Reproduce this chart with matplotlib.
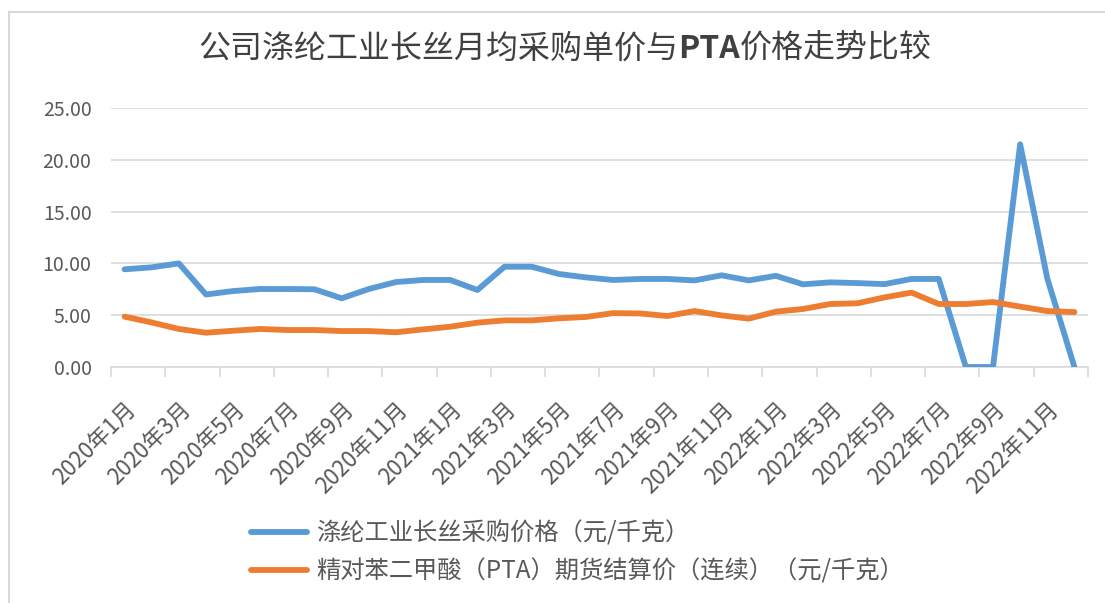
import matplotlib
matplotlib.use("Agg")
import matplotlib.pyplot as plt
from matplotlib.lines import Line2D

plt.rcParams['font.family'] = ['Noto Sans CJK SC', 'DejaVu Sans']

months = [f"{y}年{m}月" for y in (2020, 2021, 2022) for m in range(1, 13)]

polyester_price = [9.43, 9.62, 10.0, 7.0, 7.33, 7.53, 7.53, 7.5, 6.63, 7.53, 8.2, 8.4,
                   8.4, 7.43, 9.68, 9.68, 8.98, 8.65, 8.4, 8.5, 8.5, 8.36, 8.85, 8.36,
                   8.8, 7.98, 8.17, 8.1, 8.0, 8.5, 8.5, 0.0, 0.0, 21.5, 8.55, 0.0]
pta_price = [4.86, 4.3, 3.67, 3.31, 3.5, 3.67, 3.57, 3.57, 3.47, 3.47, 3.35, 3.63,
             3.89, 4.28, 4.5, 4.5, 4.7, 4.83, 5.2, 5.17, 4.92, 5.4, 4.98, 4.67,
             5.34, 5.6, 6.08, 6.15, 6.72, 7.18, 6.08, 6.08, 6.27, 5.83, 5.4, 5.3]

series_names = ["涤纶工业长丝采购价格（元/千克）",
                "精对苯二甲酸（PTA）期货结算价（连续）（元/千克）"]
title_parts = ["公司涤纶工业长丝月均采购单价与", "PTA", "价格走势比较"]
y_ticks = [0, 5, 10, 15, 20, 25]

W, H = 1105, 603
fig = plt.figure(figsize=(W / 100, H / 100), dpi=100)
ax = fig.add_axes([111 / W, 1 - 367 / H, (1088 - 111) / W, (367 - 108) / H])

blue = "#5B9BD5"
orange = "#ED7D31"
x = list(range(len(months)))
l1, = ax.plot(x, polyester_price, color=blue, lw=4.2, solid_joinstyle='round', solid_capstyle='round', zorder=3)
l2, = ax.plot(x, pta_price, color=orange, lw=4.2, solid_joinstyle='round', solid_capstyle='round', zorder=3)

ax.set_xlim(-0.5, len(months) - 0.5)
ax.set_ylim(0, 25)
ax.set_yticks(y_ticks)
ax.set_yticklabels([f"{v:.2f}" for v in y_ticks], fontsize=14, color="#595959")
ax.yaxis.grid(True, color="#D9D9D9", lw=1.2)
ax.set_axisbelow(True)
ax.tick_params(axis='y', length=0, pad=14)

for s in ['top', 'right', 'left']:
    ax.spines[s].set_visible(False)
ax.spines['bottom'].set_color("#D9D9D9")
ax.spines['bottom'].set_linewidth(1.2)

# minor ticks at category boundaries (every 2 categories), labels on every other category
ax.set_xticks([i - 0.5 for i in range(0, len(months) + 1, 2)], minor=True)
ax.set_xticks(x[::2])
ax.set_xticklabels(months[::2], rotation=45, ha='right', va='top', rotation_mode='anchor',
                   fontsize=16, color="#595959")
ax.tick_params(axis='x', which='major', length=0, pad=22)
ax.tick_params(axis='x', which='minor', length=7, color="#D9D9D9", width=1.2)

# title with bold PTA
fig.canvas.draw()
renderer = fig.canvas.get_renderer()
tx, ty = 205, H - 49
objs = []
for i, part in enumerate(title_parts):
    t = fig.text(tx / W, ty / H, part, fontsize=23, color="#404040", va='center', ha='left',
                 fontweight='bold' if part == "PTA" else 'normal')
    bb = t.get_window_extent(renderer)
    tx = bb.x1
    objs.append(t)
total_w = tx - 205
shift = (565 - total_w / 2) - 205
for t in objs:
    px, py = t.get_position()
    t.set_position((px + shift / W, py))

fig.legend([l1, l2], series_names, loc='upper left', bbox_to_anchor=(241 / W, 1 - 511 / H),
           frameon=False, fontsize=17.5, labelcolor="#595959", handlelength=2.3,
           handletextpad=0.4, labelspacing=0.5, borderaxespad=0)

# chart frame
fig.add_artist(Line2D([9 / W, 9 / W], [0, 1 - 12 / H], color="#D9D9D9", lw=1.5))
fig.add_artist(Line2D([9 / W, 1], [1 - 12 / H, 1 - 12 / H], color="#D9D9D9", lw=1.5))

fig.savefig("out.png", dpi=100)
